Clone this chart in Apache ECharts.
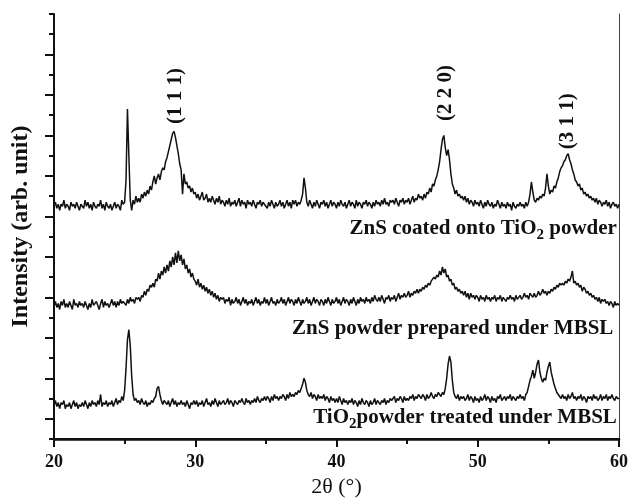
<!DOCTYPE html>
<html>
<head>
    <meta charset="UTF-8">
    <title>XRD patterns</title>
    <script src="https://cdn.jsdelivr.net/npm/echarts@6/dist/echarts.min.js"></script>
    <style>
        body { margin: 0; padding: 0; background: #fff; }
        #chart { width: 631px; height: 503px; }
    </style>
</head>
<body>
    <div id="chart"></div>

    <script>
        // 2θ sampling: 20.0 ... 60.0, one reading every 0.1°
        var twoThetaStart = 20;
        var twoThetaStep = 0.1;

        // ZnS coated onto TiO2 powder (top trace)
        var coatedValues = [
            115,117,114,116,113,116,115,118,114,116,
            115,113,117,115,116,114,117,115,113,116,
            116,114,118,115,117,114,116,113,117,115,
            114,116,115,118,114,116,113,117,115,114,
            116,113,115,117,114,116,115,113,118,116,
            117,128,163,140,118,113,118,116,120,117,
            119,117,121,119,122,120,123,121,125,123,
            127,130,126,129,131,128,132,134,133,137,
            139,142,145,148,151,152,149,145,141,136,
            133,121,131,126,127,124,125,122,124,121,
            122,119,121,118,120,122,118,119,121,117,
            119,117,120,118,116,119,117,120,116,118,
            117,115,118,116,119,115,117,116,118,115,
            117,119,115,118,116,117,114,118,116,117,
            115,118,116,114,117,116,118,115,117,116,
            116,114,117,115,118,116,114,117,115,116,
            118,115,117,114,116,118,115,117,114,118,
            116,118,115,117,116,118,121,129,124,117,
            115,118,116,114,117,115,118,116,114,117,
            116,118,115,117,114,116,118,115,117,116,
            114,117,115,118,116,115,117,114,116,118,
            115,117,116,114,118,115,117,116,114,117,
            116,118,115,117,116,114,117,115,118,116,
            117,115,118,116,119,116,117,115,118,117,
            118,116,119,117,115,118,117,119,116,118,
            117,119,116,118,120,117,119,118,121,119,
            120,118,121,119,122,121,124,122,126,125,
            128,130,133,137,143,148,150,144,140,143,
            138,131,126,124,121,123,120,121,119,120,
            118,120,117,119,116,118,117,115,118,116,
            117,115,118,116,114,117,115,118,116,115,
            117,114,116,115,118,116,114,117,115,116,
            114,117,115,116,113,117,115,114,116,115,
            117,115,116,114,117,115,117,121,127,122,
            118,117,119,118,120,119,121,120,124,131,
            125,121,123,122,125,124,127,129,132,134,
            135,137,138,140,141,138,136,133,131,128,
            127,125,126,123,124,121,122,120,121,119,
            120,118,119,117,119,116,118,117,115,117,
            116,118,115,117,114,116,117,115,116,114,
            116
        ];

        // ZnS powder prepared under MBSL (middle trace)
        var znsValues = [
            66,68,65,67,64,68,66,69,65,67,
            65,68,66,64,69,66,67,65,68,66,
            67,65,68,66,64,67,65,69,66,67,
            68,66,64,67,69,65,68,66,67,65,
            67,69,66,68,65,68,66,69,67,68,
            68,66,69,67,70,68,69,67,70,69,
            70,68,71,70,73,71,74,73,76,75,
            77,75,79,78,82,79,83,81,85,82,
            86,83,88,85,90,86,92,87,93,88,
            91,86,89,84,86,82,84,80,82,79,
            78,76,79,75,77,74,76,73,75,72,
            74,71,73,70,72,69,71,68,70,69,
            70,67,69,68,70,66,69,67,68,70,
            67,69,66,68,70,67,69,66,68,67,
            69,66,68,70,67,69,66,68,67,70,
            67,69,66,68,70,67,68,66,69,67,
            68,70,67,69,66,68,70,67,69,68,
            66,69,67,70,68,66,69,67,68,70,
            67,69,66,68,70,67,69,68,66,69,
            68,66,69,67,70,68,66,69,67,68,
            70,67,69,66,68,70,67,69,68,66,
            69,67,70,68,66,69,67,70,68,69,
            67,70,68,69,67,70,68,71,69,68,
            70,68,71,69,67,70,69,71,68,70,
            69,71,68,70,72,69,71,70,72,70,
            71,73,70,72,71,73,72,74,72,74,
            73,75,74,76,75,77,76,78,78,80,
            79,81,80,83,81,85,82,84,80,81,
            78,79,76,77,74,75,73,74,72,73,
            71,73,70,72,69,72,70,71,69,71,
            70,68,71,69,70,68,71,69,70,68,
            70,69,71,68,70,69,71,68,70,69,
            68,70,69,71,69,70,68,71,69,70,
            71,69,70,72,70,71,69,72,71,70,
            72,70,71,73,71,72,74,72,73,71,
            73,72,74,73,75,74,76,75,77,76,
            77,76,78,77,79,78,80,83,77,78,
            76,77,75,76,73,75,74,72,73,71,
            72,70,71,69,70,68,70,67,69,68,
            69,67,68,66,68,67,65,68,66,67,
            66
        ];

        // TiO2 powder treated under MBSL (bottom trace)
        var tio2Values = [
            17,19,16,18,15,18,17,19,15,17,
            16,18,15,17,19,16,18,15,17,16,
            18,16,19,17,15,18,16,19,17,18,
            16,19,17,22,16,18,17,19,16,18,
            17,19,16,18,20,17,19,18,21,19,
            24,35,49,54,46,31,22,19,20,18,
            19,17,20,18,17,19,16,18,17,19,
            18,20,21,25,26,22,19,17,19,18,
            17,19,16,18,20,17,19,16,18,17,
            19,17,18,16,19,17,15,18,17,19,
            17,19,16,18,17,19,16,18,20,17,
            18,16,19,17,20,18,16,19,17,18,
            19,17,18,20,17,19,18,16,19,18,
            17,19,18,20,18,17,20,18,19,17,
            19,18,20,18,21,19,18,20,19,21,
            19,21,20,18,21,19,22,20,21,19,
            21,20,22,21,19,22,20,23,21,22,
            21,23,22,24,23,25,27,30,28,24,
            22,21,23,20,22,21,19,22,20,21,
            20,22,19,21,20,18,21,19,20,18,
            20,18,21,19,17,20,18,19,17,19,
            18,20,17,19,18,16,19,17,20,18,
            17,19,18,16,19,17,18,20,17,19,
            18,17,19,18,20,17,19,18,20,19,
            19,21,18,20,19,21,20,18,21,19,
            20,19,21,20,22,19,21,20,22,21,
            20,22,21,19,22,20,21,23,21,20,
            22,21,23,22,21,23,22,25,30,37,
            41,38,29,23,21,20,22,19,21,20,
            21,19,20,22,19,21,20,18,21,19,
            20,18,21,19,20,22,19,21,20,18,
            21,19,20,18,21,20,22,19,20,21,
            19,21,20,22,19,21,20,19,21,20,
            22,20,21,19,22,23,26,29,31,34,
            30,33,37,39,33,30,28,30,29,33,
            36,38,33,30,27,25,23,22,21,20,
            22,20,21,19,22,20,21,23,20,21,
            19,21,20,22,19,21,20,18,21,20,
            21,19,22,20,21,19,20,22,19,21,
            20,22,19,21,20,22,20,19,21,20,
            20
        ];

        // peak labels (Miller indices) and sample names, in data coordinates
        var peakLabels = ['(1 1 1)', '(2 2 0)', '(3 1 1)'];
        var peakLabelX = [28.6, 47.75, 56.35];
        var peakLabelY = [169.5, 171, 157];

        var sampleLabels = [
            '{n|ZnS coated onto TiO}{s|2}{n| powder}',
            '{n|ZnS powder prepared under MBSL}',
            '{n|TiO}{s|2}{n|powder treated under MBSL}'
        ];
        var sampleLabelX = [59.85, 59.6, 59.85];
        var sampleLabelY = [104, 54.5, 10.5];

        var serif = '"Liberation Serif", "Times New Roman", serif';

        function toPairs(values) {
            var out = [];
            for (var i = 0; i < values.length; i++) {
                out.push([+(twoThetaStart + i * twoThetaStep).toFixed(1), values[i]]);
            }
            return out;
        }

        function lineSeries(name, values) {
            return {
                name: name,
                type: 'line',
                xAxisIndex: 0,
                yAxisIndex: 0,
                data: toPairs(values),
                showSymbol: false,
                symbol: 'none',
                animation: false,
                lineStyle: { color: '#111', width: 1.5 }
            };
        }

        var chart = echarts.init(document.getElementById('chart'));

        var option = {
            backgroundColor: '#fff',
            animation: false,
            grid: { left: 54, right: 11, top: 14, bottom: 61 },
            xAxis: [
                {
                    type: 'value',
                    min: 20,
                    max: 60,
                    interval: 10,
                    name: '2θ (°)',
                    nameLocation: 'middle',
                    nameGap: 37,
                    nameTextStyle: { fontFamily: serif, fontSize: 22, color: '#111' },
                    axisLine: { lineStyle: { color: '#111', width: 2 } },
                    axisTick: { inside: false, length: 8, lineStyle: { color: '#111', width: 2 } },
                    minorTick: { show: true, splitNumber: 2, length: 5, lineStyle: { color: '#111', width: 2 } },
                    axisLabel: { fontFamily: serif, fontWeight: 'bold', fontSize: 18, color: '#111', margin: 14 },
                    splitLine: { show: false }
                },
                {
                    type: 'value',
                    position: 'top',
                    min: 20,
                    max: 60,
                    axisLine: { lineStyle: { color: '#111', width: 2.5 } },
                    axisTick: { show: false },
                    axisLabel: { show: false },
                    splitLine: { show: false }
                }
            ],
            yAxis: [
                {
                    type: 'value',
                    min: 0,
                    max: 210,
                    interval: 20,
                    name: 'Intensity (arb. unit)',
                    nameLocation: 'middle',
                    nameGap: 21,
                    nameTextStyle: { fontFamily: serif, fontWeight: 'bold', fontSize: 24, color: '#111' },
                    axisLine: { show: true, lineStyle: { color: '#111', width: 2 } },
                    axisTick: { show: true, inside: false, length: 5, lineStyle: { color: '#111', width: 2 } },
                    minorTick: { show: true, splitNumber: 2, length: 9, lineStyle: { color: '#111', width: 2 } },
                    axisLabel: { show: false },
                    splitLine: { show: false }
                },
                {
                    type: 'value',
                    position: 'right',
                    min: 0,
                    max: 210,
                    axisLine: { show: true, lineStyle: { color: '#444', width: 1 } },
                    axisTick: { show: false },
                    axisLabel: { show: false },
                    splitLine: { show: false }
                }
            ],
            series: [
                lineSeries('ZnS coated onto TiO2 powder', coatedValues),
                lineSeries('ZnS powder prepared under MBSL', znsValues),
                lineSeries('TiO2 powder treated under MBSL', tio2Values)
            ]
        };

        chart.setOption(option);

        // place the text annotations at their data positions
        var graphics = [];
        for (var i = 0; i < peakLabels.length; i++) {
            var p = chart.convertToPixel({ xAxisIndex: 0, yAxisIndex: 0 }, [peakLabelX[i], peakLabelY[i]]);
            graphics.push({
                type: 'text',
                x: p[0],
                y: p[1],
                rotation: Math.PI / 2,
                style: {
                    text: peakLabels[i],
                    font: 'bold 21px ' + serif,
                    fill: '#111',
                    align: 'center',
                    verticalAlign: 'middle'
                }
            });
        }
        for (var j = 0; j < sampleLabels.length; j++) {
            var q = chart.convertToPixel({ xAxisIndex: 0, yAxisIndex: 0 }, [sampleLabelX[j], sampleLabelY[j]]);
            graphics.push({
                type: 'text',
                x: q[0],
                y: q[1],
                style: {
                    text: sampleLabels[j],
                    align: 'right',
                    verticalAlign: 'middle',
                    fill: '#111',
                    rich: {
                        n: { fontFamily: serif, fontWeight: 'bold', fontSize: 21, lineHeight: 28, verticalAlign: 'middle', fill: '#111' },
                        s: { fontFamily: serif, fontWeight: 'bold', fontSize: 15, lineHeight: 28, verticalAlign: 'bottom', fill: '#111' }
                    }
                }
            });
        }
        chart.setOption({ graphic: graphics });
    </script>
</body>
</html>
